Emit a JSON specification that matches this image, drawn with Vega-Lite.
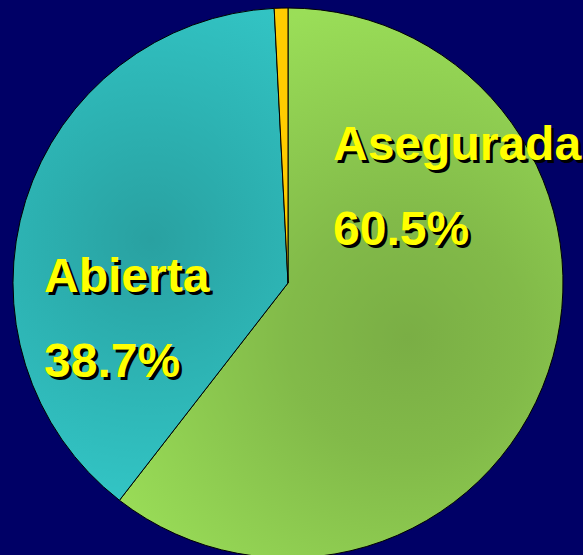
{
  "$schema": "https://vega.github.io/schema/vega-lite/v6.json",
  "width": 576,
  "height": 566,
  "autosize": {"type": "none"},
  "padding": {"left": 0, "top": 0, "right": 7, "bottom": 0},
  "background": "#000066",
  "config": {"view": {"stroke": null}},
  "data": {
    "values": [
      {"category": "Asegurada", "value": 60.5, "label": "Asegurada\n60.5%"},
      {"category": "Abierta", "value": 38.7, "label": "Abierta\n38.7%"},
      {"category": "Otros", "value": 0.8, "label": ""}
    ]
  },
  "layer": [
    {
      "mark": {"type": "arc", "radius": 275, "stroke": "#000000", "strokeWidth": 1},
      "encoding": {
        "theta": {"field": "value", "type": "quantitative", "stack": true},
        "order": {"field": "value", "type": "quantitative", "sort": "descending"},
        "fill": {
          "condition": [
            {"test": "datum.category === 'Asegurada'", "value": {"gradient": "radial", "x1": 0.62, "y1": 0.6, "r1": 0, "x2": 0.62, "y2": 0.6, "r2": 0.62, "stops": [{"offset": 0, "color": "#7aae45"}, {"offset": 0.35, "color": "#82ba49"}, {"offset": 1, "color": "#9ade58"}]}},
            {"test": "datum.category === 'Abierta'", "value": {"gradient": "radial", "x1": 0.5, "y1": 0.47, "r1": 0, "x2": 0.5, "y2": 0.47, "r2": 0.65, "stops": [{"offset": 0, "color": "#29a1a1"}, {"offset": 0.35, "color": "#2cb0b0"}, {"offset": 1, "color": "#35cccc"}]}}
          ],
          "value": "#ffcc00"
        }
      }
    },
    {
      "transform": [{"filter": "datum.category === 'Asegurada'"}],
      "mark": {"type": "text", "align": "left", "baseline": "alphabetic", "font": "Liberation Sans", "fontWeight": "bold", "fontSize": 48, "lineBreak": "\n", "lineHeight": 85, "fill": "#000000", "dx": 48, "dy": -120},
      "encoding": {"text": {"field": "label"}}
    },
    {
      "transform": [{"filter": "datum.category === 'Asegurada'"}],
      "mark": {"type": "text", "align": "left", "baseline": "alphabetic", "font": "Liberation Sans", "fontWeight": "bold", "fontSize": 48, "lineBreak": "\n", "lineHeight": 85, "fill": "#ffff00", "dx": 45, "dy": -123},
      "encoding": {"text": {"field": "label"}}
    },
    {
      "transform": [{"filter": "datum.category === 'Abierta'"}],
      "mark": {"type": "text", "align": "left", "baseline": "alphabetic", "font": "Liberation Sans", "fontWeight": "bold", "fontSize": 48, "lineBreak": "\n", "lineHeight": 85, "fill": "#000000", "dx": -241, "dy": 12},
      "encoding": {"text": {"field": "label"}}
    },
    {
      "transform": [{"filter": "datum.category === 'Abierta'"}],
      "mark": {"type": "text", "align": "left", "baseline": "alphabetic", "font": "Liberation Sans", "fontWeight": "bold", "fontSize": 48, "lineBreak": "\n", "lineHeight": 85, "fill": "#ffff00", "dx": -244, "dy": 9},
      "encoding": {"text": {"field": "label"}}
    }
  ]
}
